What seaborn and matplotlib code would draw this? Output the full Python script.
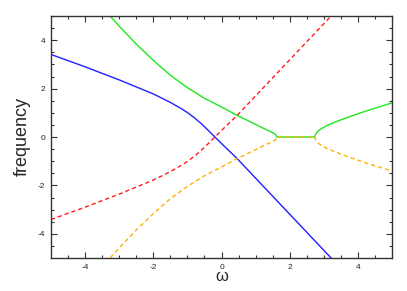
import pandas as pd
import matplotlib
matplotlib.use('Agg')
import matplotlib.pyplot as plt
import seaborn as sns

# curva azul (solida) e vermelha (tracejada)
x_azul = [-5, -4, -3, -2, -1.5, -1.2, -1.0, -0.8, -0.6, -0.4, -0.2, 0, 0.45, 1, 2, 3, 3.5]
y_azul = [3.41, 2.90, 2.36, 1.78, 1.43, 1.19, 1.01, 0.80, 0.56, 0.29, 0.01, -0.27, -0.88,
          -1.70, -3.19, -4.68, -5.43]
x_vermelho = [-5, -4, -3, -2, -1.5, -1.2, -1.0, -0.8, -0.6, -0.4, -0.2, 0, 0.45, 1, 2, 3, 3.5]
y_vermelho = [-3.41, -2.90, -2.36, -1.78, -1.43, -1.19, -1.01, -0.80, -0.56, -0.29, -0.01, 0.27,
              0.88, 1.70, 3.19, 4.68, 5.43]

# curva verde (solida) e laranja (tracejada)
x_verde = [-3.4, -3, -2.5, -2, -1.5, -1, -0.5, 0, 0.45, 0.8, 1.0, 1.2, 1.35, 1.47, 1.55, 1.59,
           1.61, 1.62, 2.0, 2.4, 2.74, 2.745, 2.76, 2.8, 2.87, 2.95, 3.1, 3.3, 3.6, 4, 4.5, 5]
y_verde = [5.21, 4.58, 3.84, 3.17, 2.55, 2.04, 1.60, 1.24, 0.90, 0.66, 0.52, 0.38, 0.28, 0.20,
           0.14, 0.09, 0.05, 0.0, 0.0, 0.0, 0.0, 0.06, 0.11, 0.20, 0.29, 0.36, 0.48, 0.60, 0.76,
           0.96, 1.19, 1.41]
x_laranja = x_verde
y_laranja = [-5.21, -4.58, -3.84, -3.17, -2.55, -2.04, -1.60, -1.24, -0.90, -0.66, -0.52, -0.38,
             -0.28, -0.20, -0.14, -0.09, -0.05, 0.0, 0.0, 0.0, 0.0, -0.06, -0.11, -0.20, -0.29,
             -0.36, -0.48, -0.60, -0.76, -0.96, -1.19, -1.41]

ticks_x = [-4, -2, 0, 2, 4]
ticks_y = [-4, -2, 0, 2, 4]


def main():
    sns.set_style('ticks')
    plt.rcParams['font.family'] = ['Liberation Sans', 'DejaVu Sans']
    plt.rcParams['axes.unicode_minus'] = False

    fig = plt.figure(figsize=(4.07, 2.91), dpi=100)
    ax = fig.add_axes([51 / 407, 1 - 258 / 291, 341 / 407, 242 / 291])

    lw = 1.0
    tracejado = (0, (3.0, 2.2))
    sns.lineplot(x=x_azul, y=y_azul, ax=ax, color='#1f1fff', lw=lw, estimator=None)
    sns.lineplot(x=x_verde, y=y_verde, ax=ax, color='#1ee81e', lw=lw, estimator=None)
    sns.lineplot(x=x_vermelho, y=y_vermelho, ax=ax, color='#ff1a1a', lw=lw,
                 linestyle=tracejado, estimator=None)
    sns.lineplot(x=x_laranja, y=y_laranja, ax=ax, color='#ffb000', lw=lw,
                 linestyle=tracejado, estimator=None)

    ax.set_xlim(-5, 5)
    ax.set_ylim(-5, 5)
    ax.set_xticks(ticks_x)
    ax.set_yticks(ticks_y)
    ax.set_xticks([v / 2 for v in range(-9, 10)], minor=True)
    ax.set_yticks([v / 2 for v in range(-9, 10)], minor=True)
    ax.tick_params(which='both', direction='in', top=True, right=True,
                   color='#333333', width=0.8, labelsize=6, pad=4)
    ax.tick_params(which='major', length=4)
    ax.tick_params(which='minor', length=2)
    for lado in ax.spines.values():
        lado.set_linewidth(1.0)
        lado.set_color('#333333')

    ax.set_xlabel('ω', fontsize=12, labelpad=-1)
    ax.set_ylabel('frequency', fontsize=13, labelpad=5)

    fig.savefig('out.png', dpi=100)


if __name__ == '__main__':
    main()
